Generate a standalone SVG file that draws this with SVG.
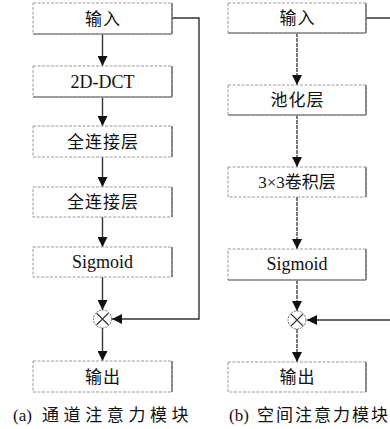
<svg xmlns="http://www.w3.org/2000/svg" width="390" height="429" viewBox="0 0 390 429">
<style>
.box{fill:#fff;stroke:#9a9a9a;stroke-width:1;stroke-dasharray:3 1.5}
.edge{fill:none;stroke:#555;stroke-width:1.2}
.bot{fill:none;stroke:#888;stroke-width:1.3}
.cn{font-family:"Noto Sans CJK SC",sans-serif;font-size:17px;fill:#111;text-anchor:middle;letter-spacing:1px}
.lt{font-family:"Liberation Serif",serif;font-size:18px;fill:#111;text-anchor:middle}
.ser{font-family:"Liberation Serif",serif;font-size:17px;fill:#111}
.capc{font-family:"Noto Sans CJK SC",sans-serif;font-size:17px;fill:#111}
.ln{fill:none;stroke:#333;stroke-width:1.4}
.dl{fill:none;stroke:#333;stroke-width:1.3;stroke-dasharray:4 1}
.circ{fill:#fff;stroke:#777;stroke-width:1;stroke-dasharray:2 1}
.x{stroke:#333;stroke-width:1.1}
</style>
<defs>
<marker id="ah" viewBox="0 0 10 10" refX="10" refY="5" markerWidth="10" markerHeight="10" markerUnits="userSpaceOnUse" orient="auto">
<path d="M0,0 L10,5 L0,10 Z" fill="#111"/>
</marker>
</defs>

<g id="connectors">
<path class="ln" d="M102.5,34 V66" marker-end="url(#ah)"/>
<path class="ln" d="M102.5,97 V126" marker-end="url(#ah)"/>
<path class="ln" d="M102.5,157 V187" marker-end="url(#ah)"/>
<path class="ln" d="M102.5,217 V247" marker-end="url(#ah)"/>
<path class="ln" d="M102.5,277 V310" marker-end="url(#ah)"/>
<path class="ln" d="M102.5,328 V361" marker-end="url(#ah)"/>
<path class="ln" d="M172,18 H199 V319 H112" marker-end="url(#ah)"/>
<path class="dl" d="M297,33 V85" marker-end="url(#ah)"/>
<path class="dl" d="M297,115 V167" marker-end="url(#ah)"/>
<path class="dl" d="M297,197 V249" marker-end="url(#ah)"/>
<path class="dl" d="M297,280 V311" marker-end="url(#ah)"/>
<path class="dl" d="M297,329 V362" marker-end="url(#ah)"/>
<path class="ln" d="M366,18 H393 V320 H307" marker-end="url(#ah)"/>
</g>

<g id="a-input">
<rect class="box" x="33" y="3" width="139" height="31"/>
<path class="edge" d="M172,3 V34"/><path class="bot" d="M33,34 H172"/>
<text class="cn" x="103" y="24.5">输入</text>
</g>
<g id="a-dct">
<rect class="box" x="33" y="66" width="139" height="31"/>
<path class="edge" d="M172,66 V97"/><path class="bot" d="M33,97 H172"/>
<text class="lt" x="102.5" y="88">2D-DCT</text>
</g>
<g id="a-fc1">
<rect class="box" x="33" y="126" width="139" height="31"/>
<path class="edge" d="M172,126 V157"/>
<text class="cn" x="103" y="147.5">全连接层</text>
</g>
<g id="a-fc2">
<rect class="box" x="33" y="187" width="139" height="30"/>
<path class="edge" d="M172,187 V217"/>
<text class="cn" x="103" y="208">全连接层</text>
</g>
<g id="a-sig">
<rect class="box" x="33" y="247" width="139" height="30"/>
<path class="edge" d="M172,247 V277"/>
<text class="lt" x="102.5" y="268">Sigmoid</text>
</g>
<g id="a-mul">
<circle class="circ" cx="102.5" cy="319" r="9"/>
<path class="x" d="M96.5,313 L108.5,325 M108.5,313 L96.5,325"/>
</g>
<g id="a-output">
<rect class="box" x="33" y="361" width="139" height="31"/>
<path class="edge" d="M172,361 V392"/>
<text class="cn" x="103" y="382.5">输出</text>
</g>
<text y="421"><tspan class="ser" x="13">(a)</tspan><tspan class="capc" x="42" style="letter-spacing:4.6px">通道注意力模块</tspan></text>

<g id="b-input">
<rect class="box" x="228" y="3" width="138" height="30"/>
<path class="edge" d="M366,3 V33"/><path class="bot" d="M228,33 H366"/>
<text class="cn" x="297.5" y="24">输入</text>
</g>
<g id="b-pool">
<rect class="box" x="228" y="85" width="138" height="30"/>
<path class="edge" d="M366,85 V115"/><path class="bot" d="M228,115 H366"/>
<text class="cn" x="297.5" y="106">池化层</text>
</g>
<g id="b-conv">
<rect class="box" x="228" y="167" width="138" height="30"/>
<path class="edge" d="M366,167 V197"/>
<text class="cn" x="297" y="188" style="letter-spacing:0px"><tspan font-family="Liberation Serif">3×3</tspan>卷积层</text>
</g>
<g id="b-sig">
<rect class="box" x="228" y="249" width="138" height="31"/>
<path class="edge" d="M366,249 V280"/><path class="bot" d="M228,280 H366"/>
<text class="lt" x="297" y="270">Sigmoid</text>
</g>
<g id="b-mul">
<circle class="circ" cx="297" cy="320" r="9"/>
<path class="x" d="M291,314 L303,326 M303,314 L291,326"/>
</g>
<g id="b-output">
<rect class="box" x="228" y="362" width="138" height="30"/>
<path class="edge" d="M366,362 V392"/>
<text class="cn" x="297.5" y="383">输出</text>
</g>
<text y="421"><tspan class="ser" x="229">(b)</tspan><tspan class="capc" x="257" style="letter-spacing:2px">空间注意力模块</tspan></text>
</svg>
